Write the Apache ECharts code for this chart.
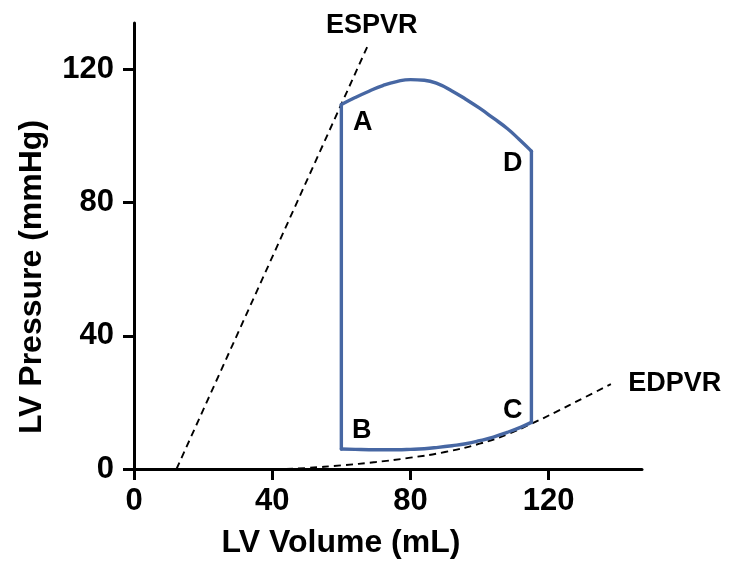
<!DOCTYPE html>
<html>
<head>
<meta charset="utf-8">
<script src="https://cdn.jsdelivr.net/npm/echarts@6/dist/echarts.min.js"></script>
<style>html,body{margin:0;padding:0;background:#fff}#c{width:729px;height:583px}</style>
</head>
<body>
<div id="c"></div>
<script>
// Axis ticks
const xTicks = [0, 40, 80, 120];
const yTicks = [0, 40, 80, 120];

// PV loop pieces (volume mL, pressure mmHg)
const loopTop = [[60,109.5],[64,111.6],[68,113.5],[72,115.2],[76,116.4],[80,117],[84,116.8],[88,115.7],[92,113.6],[96,111.1],[100,108.4],[104,105.4],[108,102.3],[111.5,99],[115,95.5]];
const loopRight = [[115,95.5],[115,14]];
const loopBottom = [[115,14],[112,12.6],[108,11],[104,9.6],[100,8.5],[96,7.6],[92,7],[88,6.5],[84,6.1],[80,5.9],[76,5.8],[72,5.8],[68,5.8],[64,5.9],[60,6]];
const loopLeft = [[60,6],[60,109.5]];

// ESPVR line and EDPVR curve
const espvr = [[12.3,0],[68,128]];
const edpvr = [[44,0],[50,0.3],[60,1.1],[70,2.1],[80,3.4],[90,5.1],[100,7.6],[108,10.4],[115,13.6],[122,17.1],[130,21.3],[138,25.5]];

// Text labels [volume, pressure, text]
const pointLabels = [[66.2,104.1,'A'],[65.9,11.7,'B'],[109.6,17.7,'C'],[109.6,91.8,'D']];
const curveLabels = [[68.8,133.2,'ESPVR'],[156.5,25.8,'EDPVR']];

const FONT = '"Liberation Sans", Arial, sans-serif';
const BLUE = '#4767a3';
const loopStyle = { color: BLUE, width: 3.4, cap: 'round', join: 'round' };
const dashStyle = { color: '#000', width: 1.9, type: [7, 5] };

const chart = echarts.init(document.getElementById('c'));
chart.setOption({
  animation: false,
  grid: { left: 134, top: 23, width: 508, height: 446, containLabel: false },
  xAxis: {
    type: 'value', min: 0, max: 147, interval: 40,
    name: 'LV Volume (mL)', nameLocation: 'middle', nameGap: 58,
    nameTextStyle: { fontFamily: FONT, fontWeight: 'bold', fontSize: 32, color: '#000', padding: [0, 94, 0, 0] },
    axisLine: { lineStyle: { color: '#000', width: 3 } },
    axisTick: { length: 11, lineStyle: { color: '#000', width: 3 }, customValues: xTicks },
    axisLabel: { customValues: xTicks, margin: 17, fontFamily: FONT, fontWeight: 'bold', fontSize: 31, color: '#000' },
    splitLine: { show: false }
  },
  yAxis: {
    type: 'value', min: 0, max: 134, interval: 40,
    name: 'LV Pressure (mmHg)', nameLocation: 'middle', nameGap: 86,
    nameTextStyle: { fontFamily: FONT, fontWeight: 'bold', fontSize: 32, color: '#000', padding: [0, 62, 0, 0] },
    axisLine: { lineStyle: { color: '#000', width: 3 } },
    axisTick: { length: 11, lineStyle: { color: '#000', width: 3 }, customValues: yTicks },
    axisLabel: { customValues: yTicks, margin: 20, fontFamily: FONT, fontWeight: 'bold', fontSize: 31, color: '#000' },
    splitLine: { show: false }
  },
  series: [
    { type: 'line', data: espvr, symbol: 'none', clip: false, lineStyle: dashStyle },
    { type: 'line', data: edpvr, symbol: 'none', smooth: true, clip: false, lineStyle: dashStyle },
    { type: 'line', data: loopTop, symbol: 'none', smooth: 0.5, clip: false, lineStyle: loopStyle },
    { type: 'line', data: loopRight, symbol: 'none', clip: false, lineStyle: loopStyle },
    { type: 'line', data: loopBottom, symbol: 'none', smooth: 0.5, clip: false, lineStyle: loopStyle },
    { type: 'line', data: loopLeft, symbol: 'none', clip: false, lineStyle: loopStyle },
    { type: 'scatter', symbolSize: 1, clip: false, silent: true,
      itemStyle: { color: 'rgba(0,0,0,0)', opacity: 1 },
      data: pointLabels.concat(curveLabels).map(d => ({ value: [d[0], d[1]], name: d[2] })),
      label: { show: true, position: 'inside', formatter: p => p.name, opacity: 1,
        textBorderWidth: 0, textBorderColor: 'transparent',
        fontFamily: FONT, fontWeight: 'bold', fontSize: 27, color: '#000' } }
  ]
});
</script>
</body>
</html>
